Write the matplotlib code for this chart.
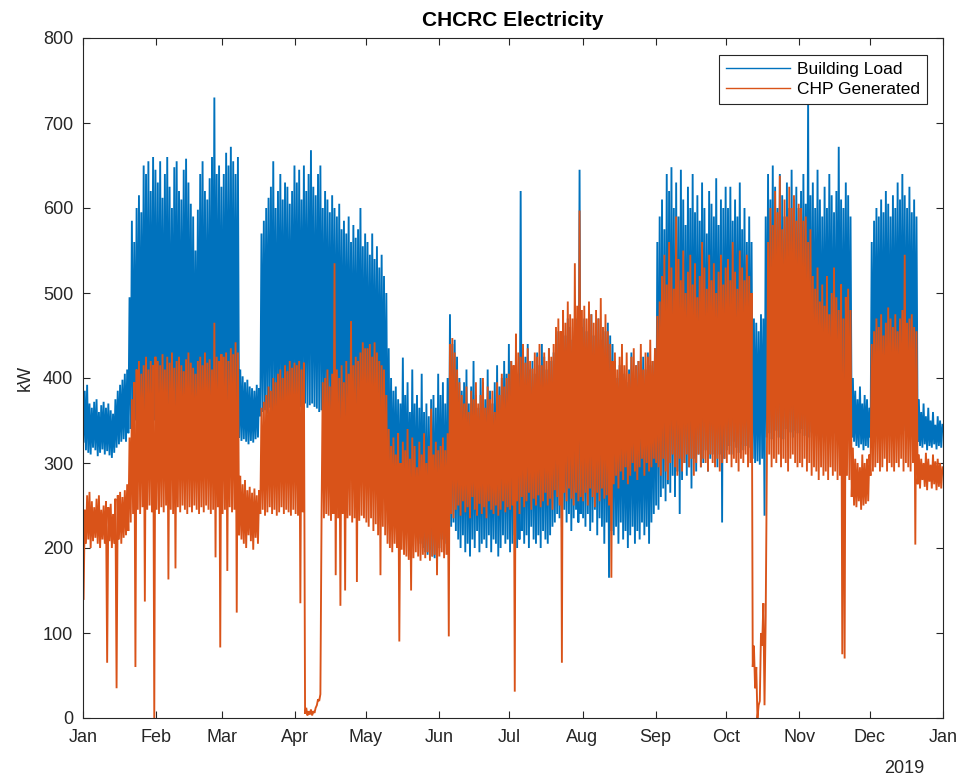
import datetime as dt
import numpy as np
import matplotlib
matplotlib.use("Agg")
import matplotlib.pyplot as plt
import matplotlib.dates as mdates

plt.rcParams['font.family'] = ['Liberation Sans', 'DejaVu Sans']

month_labels = ['Jan', 'Feb', 'Mar', 'Apr', 'May', 'Jun', 'Jul', 'Aug',
                'Sep', 'Oct', 'Nov', 'Dec', 'Jan']
series_names = ['Building Load', 'CHP Generated']

# Daily envelope values (kW), one value per day of 2018
load_hi = [
    385, 392, 370, 365, 372, 375, 360, 368, 372, 365, 370, 362, 358, 375, 385, 392, 398, 405, 410, 495, 585, 560, 600, 615, 595, 650, 640, 655, 620, 660, 645,
    630, 655, 612, 640, 660, 625, 600, 648, 655, 620, 610, 645, 658, 630, 605, 590, 550, 598, 640, 655, 620, 610, 635, 660, 730, 640, 650, 625,
    640, 665, 650, 672, 655, 640, 660, 410, 402, 395, 398, 390, 388, 385, 392, 388, 570, 585, 600, 612, 625, 655, 600, 620, 640, 610, 630, 625, 605, 620, 650,
    630, 645, 610, 650, 620, 640, 668, 625, 615, 640, 650, 600, 620, 610, 595, 615, 600, 590, 605, 575, 585, 570, 590, 560, 580, 565, 575, 600, 555, 570,
    560, 545, 570, 540, 555, 530, 545, 520, 500, 435, 400, 385, 390, 375, 370, 424, 380, 395, 360, 410, 370, 380, 365, 405, 360, 370, 355, 375, 380, 365, 405,
    380, 395, 370, 400, 475, 440, 445, 425, 400, 385, 395, 410, 370, 390, 420, 380, 365, 400, 395, 375, 410, 385, 370, 395, 415, 390, 400, 420, 405, 440,
    420, 410, 430, 405, 620, 415, 425, 440, 410, 420, 405, 430, 415, 440, 425, 410, 435, 420, 430, 445, 455, 440, 465, 450, 470, 460, 445, 455, 470, 645, 460,
    470, 455, 465, 475, 450, 460, 470, 445, 460, 455, 465, 450, 440, 420, 400, 415, 425, 405, 395, 410, 430, 400, 415, 420, 395, 425, 410, 430, 415, 420, 435,
    560, 590, 610, 575, 640, 620, 648, 600, 630, 590, 645, 610, 580, 625, 600, 640, 595, 615, 585, 630, 600, 570, 620, 605, 590, 635, 580, 610, 600, 625,
    600, 625, 585, 610, 590, 630, 575, 600, 560, 590, 560, 470, 465, 455, 475, 470, 590, 640, 610, 650, 625, 600, 640, 615, 590, 630, 600, 645, 610, 625, 600,
    620, 640, 605, 727, 615, 630, 600, 645, 610, 590, 625, 600, 640, 615, 595, 620, 672, 610, 600, 630, 615, 590, 400, 385, 375, 390, 370, 380, 375, 365,
    560, 585, 600, 590, 610, 595, 620, 605, 590, 615, 600, 630, 610, 640, 615, 600, 625, 595, 610, 590, 375, 360, 370, 355, 365, 350, 360, 345, 355, 350, 345,
]

load_lo = [
    325, 315, 312, 310, 318, 315, 308, 312, 316, 310, 314, 309, 306, 312, 318, 322, 325, 328, 325, 335, 340, 345, 350, 348, 352, 355, 350, 345, 352, 348, 350,
    350, 345, 352, 348, 355, 350, 345, 352, 348, 355, 350, 345, 352, 348, 350, 355, 345, 352, 348, 350, 345, 352, 355, 348, 350, 345, 352, 348,
    348, 345, 350, 352, 348, 345, 335, 330, 326, 328, 325, 322, 326, 324, 328, 330, 355, 360, 362, 358, 365, 360, 362, 358, 365, 360, 362, 366, 360, 362, 365,
    365, 362, 366, 368, 370, 365, 368, 370, 366, 364, 360, 362, 358, 355, 360, 352, 355, 350, 348, 352, 345, 350, 348, 345, 340, 342, 338, 340, 335, 338,
    335, 330, 332, 328, 330, 325, 328, 320, 300, 270, 255, 250, 245, 250, 240, 245, 238, 242, 235, 230, 225, 215, 210, 205, 200, 195, 192, 198, 190, 188, 195,
    200, 210, 195, 205, 215, 225, 230, 220, 210, 200, 215, 195, 205, 190, 210, 200, 220, 195, 205, 210, 200, 215, 195, 210, 205, 190, 200, 215, 205, 210,
    195, 205, 215, 200, 210, 220, 205, 215, 200, 225, 210, 205, 215, 200, 220, 210, 205, 215, 225, 230, 240, 235, 225, 245, 230, 240, 220, 235, 245, 230, 240,
    235, 225, 240, 220, 230, 245, 215, 235, 225, 205, 230, 165, 220, 215, 225, 205, 230, 210, 220, 200, 215, 225, 205, 220, 210, 230, 215, 225, 205, 230, 240,
    250, 245, 260, 270, 255, 275, 265, 285, 260, 290, 240, 280, 300, 285, 295, 270, 305, 290, 310, 295, 300, 315, 290, 305, 310, 300, 295, 310, 230, 305,
    315, 320, 310, 325, 318, 312, 322, 315, 320, 310, 318, 305, 300, 302, 298, 305, 238, 330, 335, 328, 332, 338, 330, 335, 328, 340, 332, 336, 330, 338, 335,
    335, 340, 332, 338, 330, 336, 340, 332, 338, 335, 330, 340, 336, 332, 338, 335, 340, 332, 336, 330, 338, 335, 330, 325, 320, 318, 322, 315, 320, 318,
    330, 335, 340, 338, 342, 336, 340, 345, 338, 342, 340, 336, 344, 340, 338, 342, 336, 340, 338, 335, 325, 320, 318, 322, 315, 320, 318, 322, 316, 320, 318,
]

chp_hi = [
    245, 262, 266, 255, 248, 258, 262, 245, 250, 255, 248, 252, 240, 258, 262, 266, 260, 268, 275, 330, 375, 395, 410, 420, 405, 415, 425, 410, 420, 415, 425,
    420, 415, 428, 410, 425, 418, 430, 412, 420, 425, 415, 408, 422, 430, 418, 412, 405, 420, 425, 415, 430, 418, 422, 410, 465, 425, 420, 428,
    425, 430, 420, 435, 428, 442, 430, 285, 275, 280, 268, 272, 265, 270, 262, 268, 365, 372, 380, 390, 385, 400, 395, 405, 410, 400, 415, 408, 420, 412, 418,
    415, 420, 410, 418, 12, 8, 10, 8, 12, 22, 28, 395, 400, 410, 390, 405, 535, 410, 400, 415, 395, 420, 405, 467, 415, 425, 420, 430, 442, 435,
    435, 440, 425, 442, 430, 420, 415, 410, 380, 340, 320, 330, 310, 335, 300, 325, 315, 340, 305, 330, 320, 295, 325, 310, 335, 300, 320, 364, 310, 325, 315,
    320, 330, 315, 335, 440, 447, 430, 410, 395, 380, 370, 390, 360, 385, 375, 395, 370, 380, 400, 365, 390, 375, 385, 360, 395, 380, 405, 390, 400, 405,
    420, 415, 452, 430, 425, 440, 418, 435, 420, 411, 430, 425, 440, 415, 430, 420, 435, 425, 440, 460, 470, 455, 480, 465, 490, 475, 470, 535, 485, 597, 480,
    485, 470, 490, 475, 465, 480, 470, 494, 460, 475, 455, 440, 420, 430, 410, 425, 440, 415, 430, 405, 425, 435, 415, 420, 440, 410, 430, 425, 445, 420, 435,
    473, 490, 520, 545, 510, 560, 530, 505, 590, 540, 515, 550, 500, 525, 545, 510, 535, 495, 520, 560, 530, 505, 545, 515, 535, 500, 525, 545, 510, 530,
    540, 515, 560, 525, 505, 550, 530, 515, 545, 520, 500, 85, 60, 15, 100, 135, 120, 560, 600, 580, 620, 595, 638, 575, 610, 590, 625, 600, 615, 585, 605,
    600, 585, 590, 560, 575, 520, 505, 530, 490, 510, 485, 520, 475, 500, 530, 495, 480, 510, 470, 495, 505, 480, 318, 305, 300, 295, 310, 300, 305, 310,
    440, 455, 470, 460, 475, 450, 465, 483, 470, 460, 475, 455, 470, 480, 545, 465, 470, 475, 460, 455, 310, 305, 300, 312, 305, 298, 310, 302, 305, 300, 295,
]

chp_lo = [
    140, 205, 210, 200, 208, 212, 205, 200, 210, 205, 65, 208, 200, 205, 35, 210, 205, 212, 215, 220, 230, 240, 60, 245, 240, 248, 137, 245, 250, 242, 0,
    245, 240, 248, 242, 250, 163, 245, 240, 176, 248, 242, 250, 245, 240, 248, 242, 250, 245, 240, 248, 242, 250, 245, 240, 245, 189, 248, 83,
    240, 245, 173, 248, 242, 245, 124, 215, 210, 205, 200, 215, 208, 198, 212, 205, 240, 245, 238, 242, 248, 240, 245, 238, 242, 248, 240, 245, 242, 238, 245,
    240, 238, 135, 242, 5, 3, 4, 3, 6, 15, 20, 238, 235, 240, 238, 232, 240, 168, 235, 132, 240, 150, 235, 238, 230, 235, 160, 232, 238, 235,
    230, 225, 235, 220, 228, 215, 168, 225, 215, 205, 200, 195, 205, 200, 90, 198, 192, 190, 186, 150, 188, 195, 190, 185, 192, 188, 195, 185, 190, 192, 168,
    190, 195, 188, 192, 96, 240, 235, 245, 250, 238, 255, 242, 248, 235, 260, 245, 238, 252, 240, 248, 235, 255, 245, 240, 250, 238, 245, 255, 242, 248,
    245, 250, 31, 255, 240, 260, 248, 255, 265, 245, 258, 250, 262, 248, 255, 265, 250, 258, 245, 268, 260, 250, 65, 265, 255, 270, 258, 250, 265, 255, 260,
    255, 265, 250, 270, 260, 248, 265, 255, 270, 258, 262, 250, 165, 275, 285, 270, 290, 280, 295, 275, 285, 300, 290, 280, 295, 305, 285, 300, 290, 295, 305,
    300, 295, 285, 305, 290, 280, 300, 310, 295, 285, 305, 290, 300, 310, 295, 305, 285, 300, 310, 295, 305, 300, 290, 310, 300, 295, 305, 290, 300, 305,
    300, 310, 295, 305, 300, 290, 305, 300, 310, 295, 300, 60, 35, 0, 20, 85, 15, 300, 310, 295, 305, 300, 310, 295, 305, 300, 290, 305, 310, 300, 295,
    300, 295, 305, 290, 300, 285, 295, 290, 280, 295, 285, 290, 280, 295, 285, 290, 280, 285, 75, 70, 285, 280, 260, 250, 248, 255, 245, 250, 252, 255,
    285, 290, 295, 300, 290, 295, 305, 290, 300, 295, 290, 300, 295, 305, 290, 300, 295, 290, 300, 204, 275, 270, 280, 272, 268, 278, 270, 275, 268, 272, 270,
]

W, H = 961, 778
fig = plt.figure(figsize=(W / 100, H / 100), dpi=100)
ax = fig.add_axes([83 / W, 60 / H, 860 / W, 680 / H])

start = mdates.date2num(dt.datetime(2018, 1, 1))
n = len(load_hi)
days = np.arange(n)
x = np.empty(2 * n)
x[0::2] = start + days + 0.25
x[1::2] = start + days + 0.75

def interleave(lo, hi):
    y = np.empty(2 * len(lo))
    y[0::2] = lo
    y[1::2] = hi
    return y

blue = '#0072BD'
orange = '#D95319'
ax.plot(x, interleave(load_lo, load_hi), color=blue, lw=1.35, label=series_names[0],
        solid_joinstyle='miter')
ax.plot(x, interleave(chp_lo, chp_hi), color=orange, lw=1.35, label=series_names[1],
        solid_joinstyle='miter')

tick_dates = [mdates.date2num(dt.datetime(2018, m, 1)) for m in range(1, 13)]
tick_dates.append(mdates.date2num(dt.datetime(2019, 1, 1)))
ax.set_xlim(tick_dates[0], tick_dates[-1])
ax.set_ylim(0, 800)
ax.set_xticks(tick_dates)
ax.set_xticklabels(month_labels)
ax.set_yticks(np.arange(0, 801, 100))

axcol = '#262626'
for s in ax.spines.values():
    s.set_linewidth(0.8)
    s.set_color(axcol)
ax.tick_params(direction='in', top=True, right=True, length=5, width=0.8,
               colors=axcol, labelsize=13)
ax.tick_params(axis='x', pad=8)
ax.tick_params(axis='y', pad=7)

ax.set_title('CHCRC Electricity', fontsize=15, fontweight='bold', pad=9, color='black')
fig.text(25 / W, 1 - 378 / H, 'kW', rotation=90, ha='center', va='center',
         fontsize=13, color=axcol)
fig.text(904 / W, 1 - 773 / H, '2019', ha='center', va='baseline',
         fontsize=13, color=axcol)

leg = ax.legend(loc='upper right', bbox_to_anchor=(927 / W, 1 - 55 / H),
                bbox_transform=fig.transFigure, fontsize=12.5, frameon=True,
                fancybox=False, edgecolor=axcol, framealpha=1, borderaxespad=0,
                handlelength=3.7, borderpad=0.4, labelspacing=0.3,
                handletextpad=0.4)
leg.get_frame().set_linewidth(0.8)
for line in leg.get_lines():
    line.set_linewidth(1.0)

fig.savefig('out.png', dpi=100)
